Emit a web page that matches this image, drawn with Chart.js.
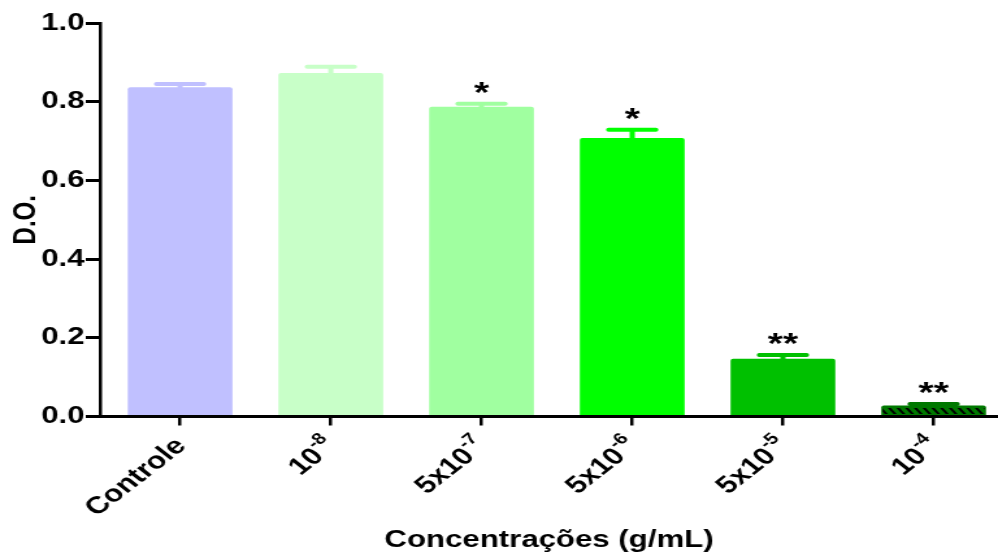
<!DOCTYPE html>
<html>
<head>
<meta charset="utf-8">
<script src="https://cdn.jsdelivr.net/npm/chart.js@4/dist/chart.umd.min.js"></script>
<style>
  body { margin: 0; background: #fff; }
</style>
</head>
<body>
<!-- the reference is stretched sideways, so the canvas is drawn narrow and shown wide -->
<canvas id="chart" width="768" height="556" style="display:block;width:998px;height:556px"></canvas>
<script>
var categories = ["Controle", "10^-8", "5x10^-7", "5x10^-6", "5x10^-5", "10^-4"];
var means = [0.837, 0.873, 0.787, 0.708, 0.147, 0.028];
var sem = [0.008, 0.016, 0.008, 0.021, 0.009, 0.004];
var stars = ["", "", "*", "*", "**", "**"];
var barColors = ["#c0c0ff", "#c8ffc8", "#a0ffa0", "#00ff00", "#00c000", "#007800"];
var yTicks = [0, 0.2, 0.4, 0.6, 0.8, 1.0];

var FONT = "Arial, 'Liberation Sans', sans-serif";

var extras = {
    id: 'extras',
    afterDatasetsDraw: function (chart) {
        var ctx = chart.ctx;
        var y = chart.scales.y;
        var bars = chart.getDatasetMeta(0).data;
        ctx.save();
        bars.forEach(function (bar, i) {
            var top = y.getPixelForValue(means[i] + sem[i]);
            var half = bar.width * 0.25;

            // hatch on the last bar
            if (i == bars.length - 1) {
                var l = bar.x - bar.width / 2, r = bar.x + bar.width / 2;
                ctx.save();
                ctx.beginPath();
                ctx.rect(l + 1, bar.base - 7, bar.width - 2, 6);
                ctx.clip();
                ctx.strokeStyle = '#000';
                ctx.lineWidth = 2;
                ctx.beginPath();
                for (var xx = l - 8; xx < r; xx += 6.7) {
                    ctx.moveTo(xx, bar.base - 8);
                    ctx.lineTo(xx + 6, bar.base);
                }
                ctx.stroke();
                ctx.restore();
            }

            // error bar, up only
            ctx.strokeStyle = barColors[i];
            ctx.lineCap = 'round';
            ctx.lineWidth = 4;
            ctx.beginPath();
            ctx.moveTo(bar.x, bar.y);
            ctx.lineTo(bar.x, top);
            ctx.moveTo(bar.x - half + 2, top);
            ctx.lineTo(bar.x + half - 2, top);
            ctx.stroke();

            if (stars[i]) {
                ctx.fillStyle = '#000';
                ctx.font = 'bold 30px ' + FONT;
                ctx.textAlign = 'center';
                ctx.textBaseline = 'alphabetic';
                var m = ctx.measureText(stars[i]);
                var mid = (m.actualBoundingBoxAscent - m.actualBoundingBoxDescent) / 2;
                ctx.fillText(stars[i], bar.x, top - 16 + mid);
            }
        });
        ctx.restore();
    },
    // x labels drawn here so the exponents can be real superscripts
    afterDraw: function (chart) {
        var ctx = chart.ctx;
        var x = chart.scales.x;
        ctx.save();
        ctx.fillStyle = '#000';
        ctx.textBaseline = 'middle';
        ctx.textAlign = 'left';
        categories.forEach(function (c, i) {
            var parts = c.split('^');
            var base = parts[0], exp = parts[1] || '';
            ctx.font = 'bold 24px ' + FONT;
            var wb = ctx.measureText(base).width;
            ctx.font = 'bold 16px ' + FONT;
            var we = exp ? ctx.measureText(exp).width : 0;
            ctx.save();
            ctx.translate(x.getPixelForValue(i) + 1, x.top + 26);
            ctx.rotate(-Math.PI / 4);
            ctx.font = 'bold 24px ' + FONT;
            ctx.fillText(base, -(wb + we), 0);
            if (exp) {
                ctx.font = 'bold 16px ' + FONT;
                ctx.fillText(exp, -we, -9);
            }
            ctx.restore();
        });
        ctx.restore();
    }
};

var ctx = document.getElementById("chart");
var chart = new Chart(ctx, {
    type: 'bar',
    data: {
        datasets: [{
            data: means.map(function (v, i) { return { x: i, y: v }; }),
            backgroundColor: barColors,
            borderWidth: 0,
            borderRadius: 2,
            barPercentage: 0.695,
            categoryPercentage: 1
        }]
    },
    options: {
        responsive: false,
        animation: false,
        devicePixelRatio: 1,
        layout: { padding: { top: 23, right: 0, bottom: 0, left: 0 } },
        plugins: {
            legend: { display: false },
            tooltip: { enabled: false }
        },
        scales: {
            x: {
                type: 'linear',
                bounds: 'data',
                offset: false,
                min: -0.531,
                max: 5.427,
                afterBuildTicks: function (s) {
                    s.ticks = categories.map(function (c, i) { return { value: i }; });
                },
                afterFit: function (s) { s.height = 139.5; },
                grid: { offset: false, drawOnChartArea: false, color: '#000', lineWidth: 2.5, tickLength: 9 },
                border: { color: '#000', width: 3 },
                ticks: { display: false },
                title: {
                    display: true,
                    text: 'Concentrações (g/mL)',
                    color: '#000',
                    font: { family: FONT, size: 24, weight: 'bold' },
                    padding: { top: 0, bottom: 1 }
                }
            },
            y: {
                min: 0,
                max: 1,
                afterBuildTicks: function (s) {
                    s.ticks = yTicks.map(function (v) { return { value: v }; });
                },
                afterFit: function (s) { s.width = 77; },
                grid: { drawOnChartArea: false, color: '#000', lineWidth: 3, tickLength: 11 },
                border: { color: '#000', width: 2.5 },
                ticks: {
                    padding: 1,
                    color: '#000',
                    font: { family: FONT, size: 24, weight: 'bold' },
                    callback: function (v) { return v.toFixed(1); }
                },
                title: {
                    display: true,
                    text: 'D.O.',
                    color: '#000',
                    font: { family: FONT, size: 24, weight: 'bold' },
                    padding: { top: 5.5, bottom: 0 }
                }
            }
        }
    },
    plugins: [extras]
});
</script>
</body>
</html>
